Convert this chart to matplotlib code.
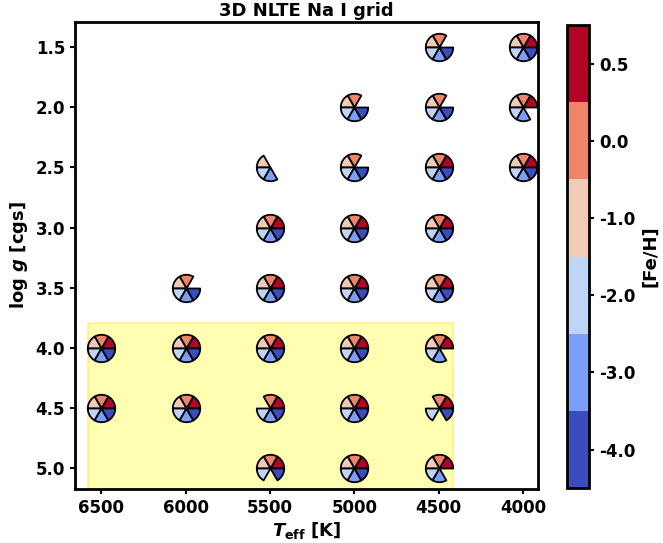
import numpy as np
import matplotlib
matplotlib.use("Agg")
import matplotlib.pyplot as plt
from matplotlib.colors import ListedColormap, BoundaryNorm
from matplotlib.cm import ScalarMappable
from matplotlib.patches import Rectangle

# Pengaturan font (tebal, termasuk mathtext)
plt.rcParams['font.weight'] = 'bold'
plt.rcParams['axes.labelweight'] = 'bold'
plt.rcParams['axes.titleweight'] = 'bold'
plt.rcParams['mathtext.fontset'] = 'custom'
plt.rcParams['mathtext.rm'] = 'DejaVu Sans:bold'
plt.rcParams['mathtext.it'] = 'DejaVu Sans:italic:bold'
plt.rcParams['mathtext.bf'] = 'DejaVu Sans:bold'

# Data grid
feh_values = [0.5, 0.0, -1.0, -2.0, -3.0, -4.0]
feh_labels = ['0.5', '0.0', '-1.0', '-2.0', '-3.0', '-4.0']

teff = [4500, 4000,
        5000, 4500, 4000,
        5500, 5000, 4500, 4000,
        5500, 5000, 4500,
        6000, 5500, 5000, 4500,
        6500, 6000, 5500, 5000, 4500,
        6500, 6000, 5500, 5000, 4500,
        5500, 5000, 4500]
logg = [1.5, 1.5,
        2.0, 2.0, 2.0,
        2.5, 2.5, 2.5, 2.5,
        3.0, 3.0, 3.0,
        3.5, 3.5, 3.5, 3.5,
        4.0, 4.0, 4.0, 4.0, 4.0,
        4.5, 4.5, 4.5, 4.5, 4.5,
        5.0, 5.0, 5.0]
# metalisitas yang tidak ada model
missing = [[0.5], [],
           [0.5], [0.5], [-4.0],
           [0.5, 0.0, -4.0], [0.5], [], [],
           [], [], [],
           [0.5], [], [], [],
           [], [], [], [], [-4.0],
           [], [], [-1.0], [], [-1.0, -3.0],
           [-3.0], [], [-4.0]]

# Warna diskrit dari coolwarm (0.5 merah -> -4.0 biru)
cmap_full = plt.get_cmap('coolwarm')
colors = [cmap_full(v) for v in np.linspace(1, 0, len(feh_values))]


def wedge_marker(i):
    # irisan 60 derajat, berlawanan jarum jam mulai dari 0 derajat
    t = np.radians(np.linspace(60 * i, 60 * (i + 1), 30))
    verts = [(0, 0)] + list(zip(np.cos(t), np.sin(t))) + [(0, 0)]
    return verts


fig = plt.figure(figsize=(6.63, 5.43), dpi=100)
ax = fig.add_axes([0.113, 0.099, 0.699, 0.861])
cax = fig.add_axes([0.855, 0.101, 0.034, 0.853])

# Kotak kuning
ax.add_patch(Rectangle((4415, 3.79), 6575 - 4415, 2.0, facecolor='yellow',
                       alpha=0.3, edgecolor='gold', linewidth=1.5, zorder=0))

teff_arr = np.array(teff)
logg_arr = np.array(logg)
for i, feh in enumerate(feh_values):
    has = np.array([feh not in m for m in missing])
    ax.scatter(teff_arr[has], logg_arr[has], marker=wedge_marker(i), s=390,
               color=colors[i], edgecolors='black', linewidths=1.3, zorder=3)

ax.set_xlim(6655, 3910)
ax.set_ylim(5.175, 1.29)
ax.set_xticks([6500, 6000, 5500, 5000, 4500, 4000])
ax.set_yticks([1.5, 2.0, 2.5, 3.0, 3.5, 4.0, 4.5, 5.0])
ax.tick_params(labelsize=12, width=1.5)
for s in ax.spines.values():
    s.set_linewidth(2)
ax.set_xlabel(r'$T_{\rm eff}$ [K]', fontsize=13, labelpad=2)
ax.set_ylabel(r'log $g$ [cgs]', fontsize=13)
ax.set_title('3D NLTE Na I grid', fontsize=13, pad=4)

# Colorbar
cmap = ListedColormap(colors[::-1])
norm = BoundaryNorm(np.arange(7), cmap.N)
cb = fig.colorbar(ScalarMappable(norm=norm, cmap=cmap), cax=cax,
                  ticks=np.arange(6) + 0.5)
cb.ax.set_yticklabels(feh_labels[::-1])
cb.ax.minorticks_off()
cb.ax.tick_params(labelsize=12, width=1.5)
cb.outline.set_linewidth(2)
cb.set_label('[Fe/H]', fontsize=13)

fig.savefig('out.png', dpi=100)
